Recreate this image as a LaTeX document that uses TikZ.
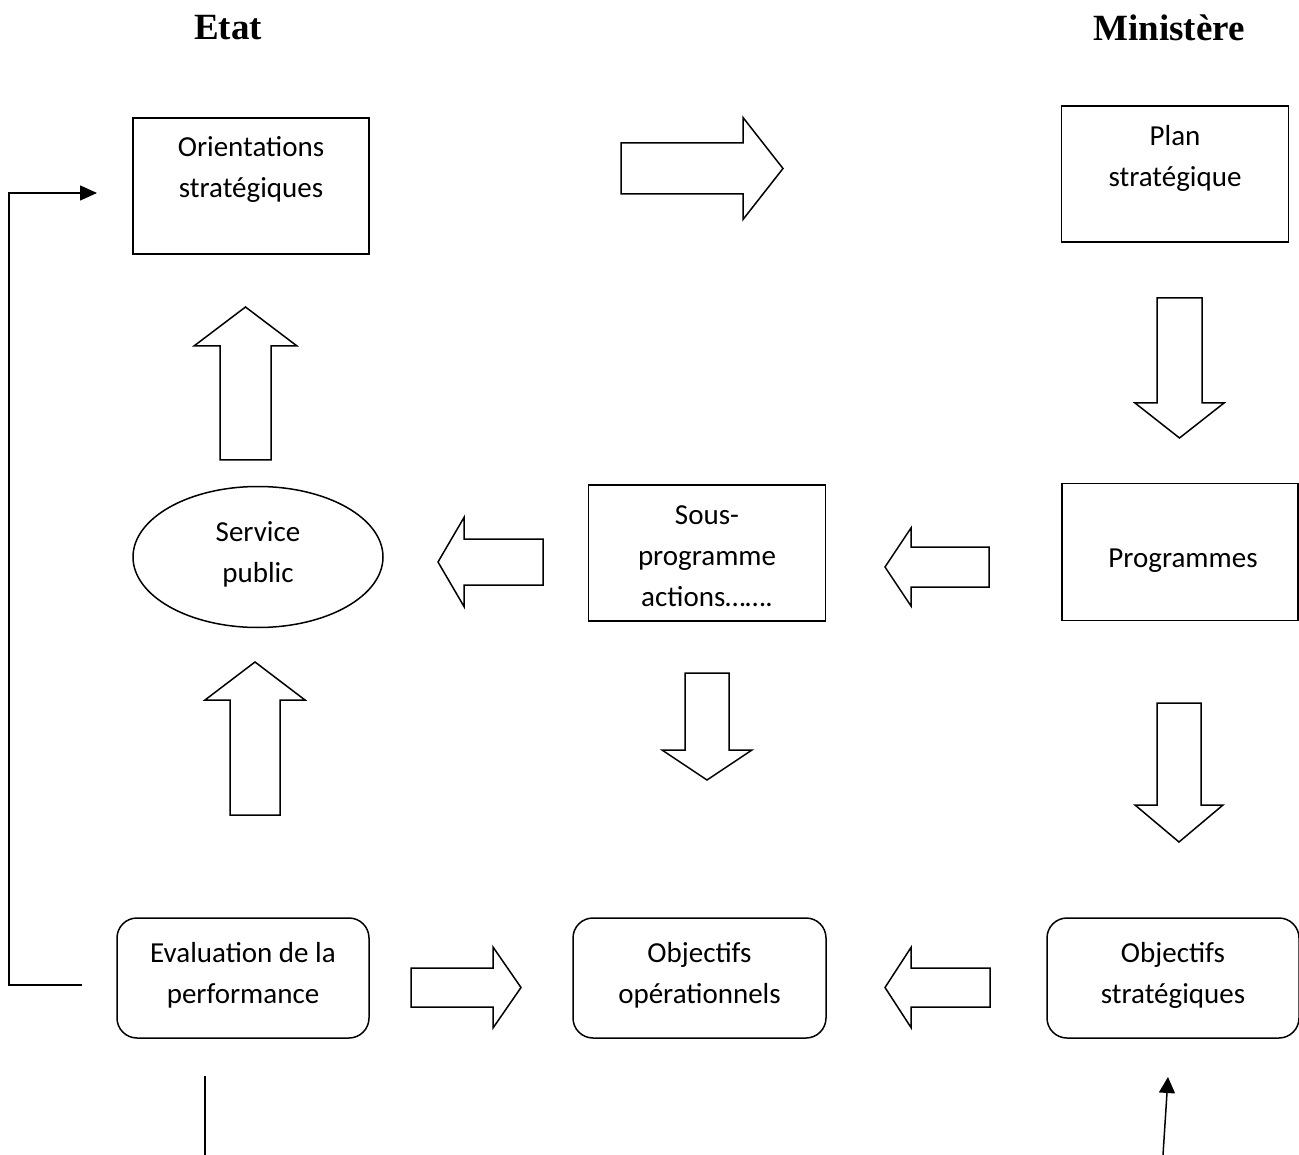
\documentclass[tikz,border=0pt]{standalone}
\usepackage{fontspec}
\setmainfont{Carlito}
\newfontfamily\titlefont{Liberation Serif}
\usetikzlibrary{shapes.geometric,arrows.meta}
\tikzset{
  box/.style={draw,line width=1.5pt,minimum width=236pt,minimum height=136pt,inner sep=0pt,align=center,font=\fontsize{29}{41}\selectfont},
  roundbox/.style={box,rounded corners=20pt,minimum width=252pt,minimum height=120pt},
  oval/.style={box,ellipse,minimum width=250pt,minimum height=141pt},
  boxtext/.style={align=center,inner sep=0pt,font=\fontsize{29}{41}\selectfont},
  title/.style={font=\titlefont\bfseries\fontsize{37}{44}\selectfont},
  blockarrow/.style={draw,line width=1.5pt,line join=miter},
  link/.style={line width=1.5pt}
}
\begin{document}
\begin{tikzpicture}[x=1pt,y=-1pt]
\useasboundingbox (0,0) rectangle (1299,1155);
% titles
\node[title] (etat) at (228,28) {Etat};
\node[title] (ministere) at (1169,28) {Ministère};
% boxes
\node[box] (orient) at (251,186) {};
\node[boxtext] (orienttxt) at (251,169) {Orientations\\stratégiques};
\node[box,minimum width=227pt] (plan) at (1175,174) {};
\node[boxtext] (plantxt) at (1175,158) {Plan\\stratégique};
\node[oval] (service) at (258,557) {};
\node[boxtext] (servicetxt) at (258,554) {Service\\public};
\node[box,minimum width=237pt] (sousprog) at (707,553) {};
\node[boxtext] (sousprogtxt) at (707,556) {Sous-\\programme\\actions…….};
\node[box,minimum height=137pt] (prog) at (1180,552) {};
\node[boxtext] (progtxt) at (1183,561) {Programmes};
\node[roundbox] (evalperf) at (243,978) {};
\node[boxtext] (evalperftxt) at (243,975) {Evaluation de la\\performance};
\node[roundbox,minimum width=253pt] (objop) at (699.5,978) {};
\node[boxtext] (objoptxt) at (699.5,975) {Objectifs\\opérationnels};
\node[roundbox] (objstrat) at (1173,978) {};
\node[boxtext] (objstrattxt) at (1173,975) {Objectifs\\stratégiques};
% block arrows: tail x / tail y / angle / shaft / half shaft / head / half head
\foreach \tx/\ty/\ang/\len/\sw/\hl/\hw in {
  621/168.5/0/122/25.5/40/51,
  1179.5/298/270/105/22.5/35/44.5,
  245.5/460/90/114/25.5/39/51.5,
  543/562/180/79/23/26/44.5,
  989/567/180/78/20/26/39,
  707/673/270/77/22/30/45,
  255/815/90/115/25/38/50,
  1179/703/270/102/22/37/44,
  411/987.5/0/82/19.5/28/40.5,
  990/987.5/180/79/19.5/26/40}
  \draw[blockarrow,shift={(\tx,\ty)},rotate=\ang] (0,-\sw) -- (\len,-\sw) -- (\len,-\hw)
    -- ({\len+\hl},0) -- (\len,\hw) -- (\len,\sw) -- (0,\sw) -- cycle;
% feedback loop
\coordinate (fbin) at (82,985);
\coordinate (fbout) at (97,193);
\draw[link,-{Triangle[length=17pt,width=15pt]}] (fbin) -- ++(-73,0) |- (fbout);
% bottom lines
\coordinate (lowa) at (205,1076);
\coordinate (lowb) at (205,1155);
\draw[link] (lowa) -- (lowb);
\coordinate (lowc) at (1163,1155);
\coordinate (lowd) at (1168,1077);
\draw[link,-{Triangle[length=16pt,width=16pt]}] (lowc) -- (lowd);
\end{tikzpicture}
\end{document}
